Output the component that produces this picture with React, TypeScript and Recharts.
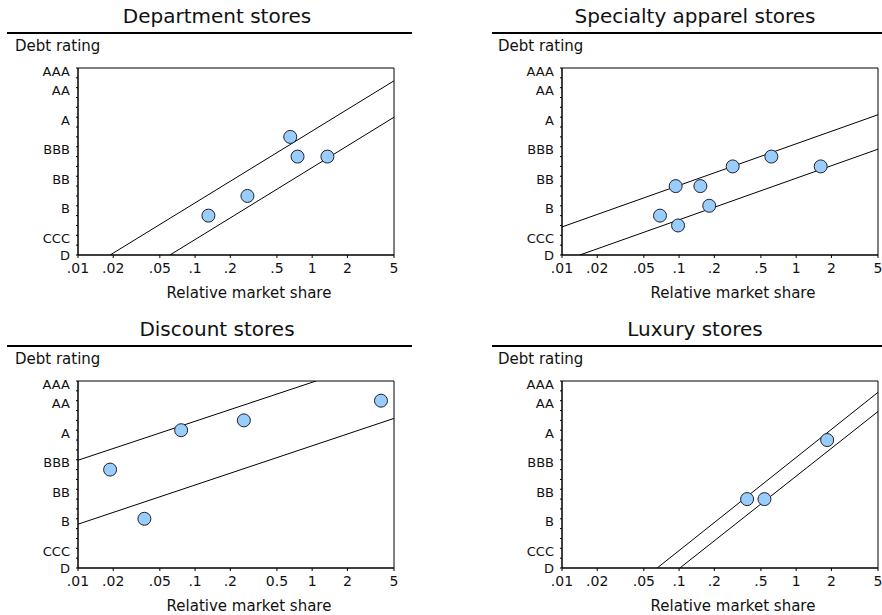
import React from "react";
import {
  ReferenceArea,
  ReferenceLine,
  Scatter,
  ScatterChart,
  XAxis,
  YAxis,
} from "recharts";

// rating notches, D = 0 ... AAA = 19
const ratingTicks = [0, 1, 2, 3, 4, 5, 6, 7, 8, 9, 10, 11, 12, 13, 14, 15, 16, 17, 18, 19];
const ratingNames: Record<number, string> = {
  19: "AAA",
  17: "AA",
  14: "A",
  11: "BBB",
  8: "BB",
  5: "B",
  2: "CCC",
  0: "D",
};

const shareTicks = [0.01, 0.02, 0.05, 0.1, 0.2, 0.5, 1, 2, 5];
const shareLabels = [".01", ".02", ".05", ".1", ".2", ".5", "1", "2", "5"];
const discountShareLabels = [".01", ".02", ".05", ".1", ".2", "0.5", "1", "2", "5"];

const departmentShare = [0.13, 0.28, 0.65, 0.75, 1.35];
const departmentRating = [4, 6, 12, 10, 10];
const departmentUpper = [{ x: 0.0188, y: 0 }, { x: 5, y: 17.7 }];
const departmentLower = [{ x: 0.061, y: 0 }, { x: 5, y: 14 }];

const specialtyShare = [0.0687, 0.0935, 0.098, 0.152, 0.181, 0.287, 0.614, 1.62];
const specialtyRating = [4, 7, 3, 7, 5, 9, 10, 9];
const specialtyUpper = [{ x: 0.01, y: 2.85 }, { x: 5, y: 14.25 }];
const specialtyLower = [{ x: 0.0142, y: 0 }, { x: 5, y: 10.75 }];

const discountShare = [0.0188, 0.0369, 0.076, 0.261, 3.87];
const discountRating = [10, 5, 14, 15, 17];
const discountUpper = [{ x: 0.01, y: 10.95 }, { x: 1.08, y: 19 }];
const discountLower = [{ x: 0.01, y: 4.45 }, { x: 5, y: 15.2 }];

const luxuryShare = [0.381, 0.536, 1.84];
const luxuryRating = [7, 7, 13];
const luxuryUpper = [{ x: 0.065, y: 0 }, { x: 5, y: 17.85 }];
const luxuryLower = [{ x: 0.1016, y: 0 }, { x: 5, y: 15.9 }];

const FONT = "'DejaVu Sans', Verdana, sans-serif";
const INK = "#111";

type Pt = { x: number; y: number };

function RatingTick(props: any) {
  const { x, y, payload } = props;
  const name = ratingNames[payload.value];
  if (!name) return null;
  const shift = payload.value === 0 ? 0 : 3;
  return (
    <text
      x={x}
      y={y + shift}
      dy="0.36em"
      textAnchor="end"
      fontSize={13}
      fontFamily={FONT}
      fill={INK}
    >
      {name}
    </text>
  );
}

function Dot(props: any) {
  return <circle cx={props.cx} cy={props.cy} r={6.5} fill="#99ccff" stroke="#222" strokeWidth={1} />;
}

type PanelProps = {
  left: number;
  top: number;
  title: string;
  titleX: number;
  shares: number[];
  ratings: number[];
  upper: Pt[];
  lower: Pt[];
  tickLabels: string[];
};

function Panel({ left, top, title, titleX, shares, ratings, upper, lower, tickLabels }: PanelProps) {
  const data = shares.map((x, i) => ({ x, y: ratings[i] }));
  const inset = titleX < 215 ? 1 : 0;
  return (
    <div style={{ position: "absolute", left, top, width: 441, height: 305 }}>
      <div
        style={{
          position: "absolute",
          left: titleX - 200,
          top: 4,
          width: 400,
          textAlign: "center",
          fontSize: 20,
          lineHeight: "24px",
          color: INK,
        }}
      >
        {title}
      </div>
      <div
        style={{
          position: "absolute",
          left: 7 + inset,
          top: 32,
          width: 405,
          height: 2,
          background: "#000",
        }}
      />
      <div
        style={{
          position: "absolute",
          left: 15 - inset,
          top: 37,
          fontSize: 15,
          lineHeight: "18px",
          color: INK,
        }}
      >
        Debt rating
      </div>
      <ScatterChart
        width={441}
        height={305}
        margin={{ top: 68, right: 47, bottom: 10, left: 18 }}
        style={{ position: "absolute", left: 0, top: 0 }}
      >
        <XAxis
          type="number"
          dataKey="x"
          scale="log"
          domain={[0.01, 5]}
          allowDataOverflow
          ticks={shareTicks}
          interval={0}
          tickFormatter={(v: number) => tickLabels[shareTicks.indexOf(v)] ?? ""}
          height={40}
          tickSize={3}
          tickMargin={5}
          axisLine={{ stroke: "#000" }}
          tickLine={{ stroke: "#000" }}
          tick={{ fontSize: 14, fontFamily: FONT, fill: INK }}
        />
        <YAxis
          type="number"
          dataKey="y"
          domain={[0, 19]}
          allowDataOverflow
          ticks={ratingTicks}
          interval={0}
          width={60}
          tickSize={2}
          tickMargin={6}
          axisLine={{ stroke: "#000" }}
          tickLine={{ stroke: "#000" }}
          tick={<RatingTick />}
        />
        <ReferenceArea
          x1={0.01}
          x2={5}
          y1={0}
          y2={19}
          fill="none"
          fillOpacity={0}
          stroke="#000"
          strokeWidth={1}
        />
        <ReferenceLine segment={upper} stroke="#000" strokeWidth={1} ifOverflow="hidden" />
        <ReferenceLine segment={lower} stroke="#000" strokeWidth={1} ifOverflow="hidden" />
        <Scatter data={data} shape={<Dot />} isAnimationActive={false} />
      </ScatterChart>
      <div
        style={{
          position: "absolute",
          left: 249 - 150,
          top: 284,
          width: 300,
          textAlign: "center",
          fontSize: 15,
          lineHeight: "18px",
          color: INK,
        }}
      >
        Relative market share
      </div>
    </div>
  );
}

export default function App() {
  return (
    <div
      style={{
        position: "absolute",
        left: 0,
        top: 0,
        width: 882,
        height: 615,
        overflow: "hidden",
        background: "#fff",
        fontFamily: FONT,
      }}
    >
      <Panel
        left={0}
        top={0}
        title="Department stores"
        titleX={217}
        shares={departmentShare}
        ratings={departmentRating}
        upper={departmentUpper}
        lower={departmentLower}
        tickLabels={shareLabels}
      />
      <Panel
        left={484}
        top={0}
        title="Specialty apparel stores"
        titleX={211}
        shares={specialtyShare}
        ratings={specialtyRating}
        upper={specialtyUpper}
        lower={specialtyLower}
        tickLabels={shareLabels}
      />
      <Panel
        left={0}
        top={313}
        title="Discount stores"
        titleX={217}
        shares={discountShare}
        ratings={discountRating}
        upper={discountUpper}
        lower={discountLower}
        tickLabels={discountShareLabels}
      />
      <Panel
        left={484}
        top={313}
        title="Luxury stores"
        titleX={211}
        shares={luxuryShare}
        ratings={luxuryRating}
        upper={luxuryUpper}
        lower={luxuryLower}
        tickLabels={shareLabels}
      />
    </div>
  );
}
